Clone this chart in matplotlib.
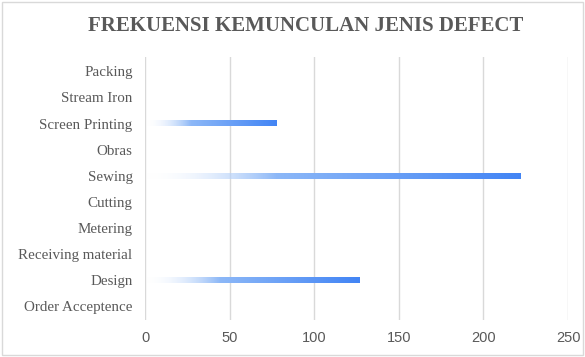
import numpy as np
import matplotlib.pyplot as plt
from matplotlib.colors import LinearSegmentedColormap
from matplotlib.patches import Rectangle

categories = ["Order Acceptence", "Design", "Receiving material", "Metering",
              "Cutting", "Sewing", "Obras", "Screen Printing", "Stream Iron", "Packing"]
values = [0, 127, 0, 0, 0, 222, 0, 78, 0, 0]
x_ticks = [0, 50, 100, 150, 200, 250]

fig = plt.figure(figsize=(5.85, 3.57), dpi=100)
fig.patches.append(Rectangle((0.003, 0.006), 0.994, 0.988, transform=fig.transFigure,
                             fill=False, edgecolor="#d9d9d9", linewidth=1))
ax = fig.add_axes([0.248, 0.103, 0.723, 0.737])

# gradient from transparent white to blue, stretched over each bar
cmap = LinearSegmentedColormap.from_list(
    "grad", [(0.0, (1, 1, 1, 0.0)), (0.35, (0.55, 0.72, 0.97, 1.0)), (1.0, (0.26, 0.52, 0.96, 1.0))])
grad = np.linspace(0, 1, 256).reshape(1, -1)
bar_h = 0.22
for i, v in enumerate(values):
    if v > 0:
        ax.imshow(grad, cmap=cmap, aspect="auto", extent=[0, v, i - bar_h / 2, i + bar_h / 2],
                  zorder=3, interpolation="bilinear")

ax.set_xlim(0, 250)
ax.set_ylim(-0.55, len(categories) - 0.45)
ax.set_xticks(x_ticks)
ax.set_yticks(range(len(categories)))
ax.set_yticklabels(categories, family="Liberation Serif", fontsize=10.8, color="#595959")
for lab in ax.get_xticklabels():
    lab.set_family("Liberation Sans")
    lab.set_fontsize(10.5)
    lab.set_color("#595959")
ax.tick_params(length=0, pad=8)
ax.tick_params(axis="y", pad=9)
ax.grid(axis="x", color="#d9d9d9", linewidth=1, zorder=0)
for s in ax.spines.values():
    s.set_visible(False)

fig.text(0.522, 0.927, "FREKUENSI KEMUNCULAN JENIS DEFECT", ha="center", va="center",
         family="Liberation Serif", fontweight="bold", fontsize=15, color="#595959")

fig.savefig("out.png", dpi=100)
